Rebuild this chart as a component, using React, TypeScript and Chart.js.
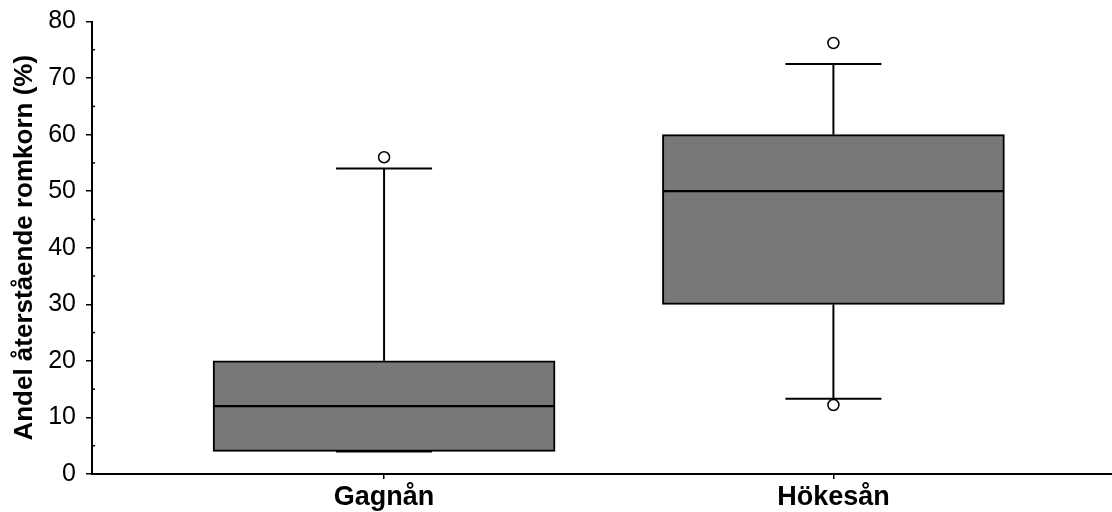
import React, { useEffect, useRef } from 'react';
import { Chart, registerables } from 'chart.js';

Chart.register(...registerables);

// ---- data ----
const categories = ['Gagnån', 'Hökesån'];
const categoryPositions = [1, 2];
const lowerWhisker = [4, 13.3];
const q1 = [4, 30];
const median = [12, 50];
const q3 = [20, 60];
const upperWhisker = [54, 72.5];
const outlierX = [1, 2, 2];
const outlierY = [56, 76.2, 12.2];
const yMin = 0;
const yMax = 80;
const yStep = 10;
const minorTicks = [5, 15, 25, 35, 45, 55, 65, 75];
const yTitle = 'Andel återstående romkorn (%)';

// ---- style constants ----
const FONT = "'Liberation Sans', Arial, sans-serif";
const BOX_FILL = '#787878';
const BOX_PX = 342;
const CAP_PX = 96;

const whiskerPlugin = {
  id: 'whiskers',
  beforeDatasetsDraw(chart: any) {
    const { ctx, scales } = chart;
    const x = scales.x;
    const y = scales.y;
    ctx.save();
    ctx.strokeStyle = '#000';
    ctx.lineWidth = 2;
    categoryPositions.forEach((pos, i) => {
      const px = x.getPixelForValue(pos);
      const segs: [number, number][] = [
        [q3[i], upperWhisker[i]],
        [lowerWhisker[i], q1[i]],
      ];
      segs.forEach(([a, b]) => {
        ctx.beginPath();
        ctx.moveTo(px, y.getPixelForValue(a));
        ctx.lineTo(px, y.getPixelForValue(b));
        ctx.stroke();
      });
      [upperWhisker[i], lowerWhisker[i]].forEach((v) => {
        const py = y.getPixelForValue(v);
        ctx.beginPath();
        ctx.moveTo(px - CAP_PX / 2, py);
        ctx.lineTo(px + CAP_PX / 2, py);
        ctx.stroke();
      });
    });
    ctx.restore();
  },
  afterDraw(chart: any) {
    const { ctx, scales } = chart;
    const y = scales.y;
    const left = chart.chartArea.left;
    ctx.save();
    ctx.strokeStyle = '#000';
    ctx.lineWidth = 1.5;
    minorTicks.forEach((v) => {
      const py = y.getPixelForValue(v);
      ctx.beginPath();
      ctx.moveTo(left, py);
      ctx.lineTo(left + 3, py);
      ctx.stroke();
    });
    ctx.restore();
  },
};

export default function App() {
  const ref = useRef<HTMLCanvasElement | null>(null);

  useEffect(() => {
    document.body.style.margin = '0';
    const canvas = ref.current;
    if (!canvas) return;

    const lowerBox = categoryPositions.map((p, i) => ({ x: p, y: [q1[i], median[i]] }));
    const upperBox = categoryPositions.map((p, i) => ({ x: p, y: [median[i], q3[i]] }));
    const outliers = outlierX.map((p, i) => ({ x: p, y: outlierY[i] }));

    const chart = new Chart(canvas, {
      data: {
        datasets: [
          {
            type: 'scatter',
            data: outliers,
            pointRadius: 5.5,
            pointBackgroundColor: '#fff',
            pointBorderColor: '#000',
            pointBorderWidth: 1.5,
            clip: false,
          } as any,
          {
            type: 'bar',
            data: lowerBox,
            backgroundColor: BOX_FILL,
            borderColor: '#000',
            borderWidth: { top: 1.5, bottom: 2, left: 2, right: 2 },
            borderSkipped: false,
            barThickness: BOX_PX,
            grouped: false,
          } as any,
          {
            type: 'bar',
            data: upperBox,
            backgroundColor: BOX_FILL,
            borderColor: '#000',
            borderWidth: { top: 2, bottom: 1.5, left: 2, right: 2 },
            borderSkipped: false,
            barThickness: BOX_PX,
            grouped: false,
          } as any,
        ],
      },
      options: {
        animation: false,
        responsive: false,
        layout: { autoPadding: false, padding: { top: 21.5, right: 0, left: 0, bottom: 0 } },
        plugins: {
          legend: { display: false },
          tooltip: { enabled: false },
        },
        scales: {
          x: {
            type: 'linear',
            min: 0.35,
            max: 2.62,
            offset: false,
            afterBuildTicks: (s: any) => {
              s.ticks = categoryPositions.map((v) => ({ value: v }));
            },
            afterFit: (s: any) => {
              s.height = 38;
              s.paddingLeft = 0;
              s.paddingRight = 0;
            },
            ticks: {
              callback: (v: any) => categories[categoryPositions.indexOf(Number(v))] ?? '',
              color: '#000',
              font: { family: FONT, size: 27, weight: 'bold' },
              padding: 2,
              maxRotation: 0,
              autoSkip: false,
            },
            grid: { offset: false, drawOnChartArea: false, drawTicks: true, tickLength: 5, color: '#000', lineWidth: 1.5 },
            border: { display: true, color: '#000', width: 2 },
          },
          y: {
            type: 'linear',
            min: yMin,
            max: yMax,
            afterFit: (s: any) => {
              s.width = 92;
              s.paddingTop = 0;
              s.paddingBottom = 0;
            },
            ticks: {
              stepSize: yStep,
              color: '#000',
              font: { family: FONT, size: 25 },
              padding: 10,
            },
            grid: { drawOnChartArea: false, drawTicks: true, tickLength: 6, color: '#000', lineWidth: 1.5 },
            border: { display: true, color: '#000', width: 2 },
            title: {
              display: true,
              text: yTitle,
              color: '#000',
              font: { family: FONT, size: 26, weight: 'bold' },
              padding: { top: 9, bottom: 0 },
            },
          },
        },
      } as any,
      plugins: [whiskerPlugin],
    });

    return () => chart.destroy();
  }, []);

  return (
    <div style={{ width: 1112, height: 512 }}>
      <canvas ref={ref} width={1112} height={512} style={{ display: 'block' }} />
    </div>
  );
}
